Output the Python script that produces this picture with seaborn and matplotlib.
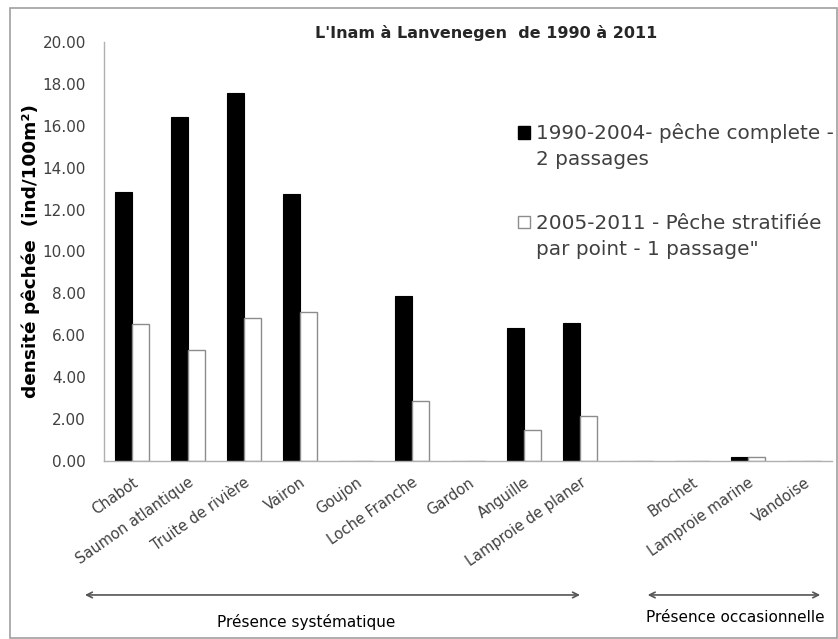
import numpy as np
import pandas as pd
import matplotlib
matplotlib.use("Agg")
import matplotlib.pyplot as plt
from matplotlib.patches import Rectangle, Patch
import matplotlib.transforms as mtransforms
import seaborn as sns

species = ['Chabot', 'Saumon atlantique', 'Truite de rivière', 'Vairon', 'Goujon',
           'Loche Franche', 'Gardon', 'Anguille', 'Lamproie de planer', ' ',
           'Brochet', 'Lamproie marine', 'Vandoise']
dens_1990_2004 = [12.85, 16.42, 17.55, 12.73, 0.0, 7.88, 0.0, 6.35, 6.59, 0.0, 0.0, 0.20, 0.0]
dens_2005_2011 = [6.52, 5.30, 6.81, 7.13, 0.0, 2.86, 0.0, 1.48, 2.15, 0.0, 0.0, 0.18, 0.0]
series = ['1990-2004- pêche complete -\n2 passages',
          '2005-2011 - Pêche stratifiée\npar point - 1 passage"']

df = pd.DataFrame({
    'espece': species * 2,
    'periode': [series[0]] * len(species) + [series[1]] * len(species),
    'densite': dens_1990_2004 + dens_2005_2011,
})

sns.set_style('white')
plt.rcParams['font.family'] = ['DejaVu Sans']
grey = '#404040'
line_grey = '#b0b0b0'

fig = plt.figure(figsize=(8.38, 6.39), dpi=100)
ax = fig.add_axes([0.1241, 0.2786, 0.8687, 0.6557])

sns.barplot(data=df, x='espece', y='densite', hue='periode', order=species,
            hue_order=series, palette=['black', 'white'], width=0.6, gap=0,
            saturation=1, legend=False, ax=ax)
for bar in ax.containers[0]:
    bar.set_edgecolor('black')
    bar.set_linewidth(0.8)
for bar in ax.containers[1]:
    bar.set_edgecolor('#8c8c8c')
    bar.set_linewidth(1.0)

ax.set_xlim(-0.5, len(species) - 0.5)
ax.set_ylim(0, 20)
ax.set_yticks(np.arange(0, 21, 2))
ax.set_yticklabels([f'{v:.2f}' for v in np.arange(0, 21, 2)], fontsize=11, color=grey)
ax.set_xticks(range(len(species)))
ax.set_xticklabels(species, rotation=35, ha='right', rotation_mode='anchor',
                   fontsize=10.5, color=grey)
ax.set_xticks(np.arange(-0.5, len(species), 1), minor=True)
ax.tick_params(axis='x', which='major', length=0, pad=10)
ax.tick_params(axis='x', which='minor', length=5, color=line_grey, direction='out')
ax.tick_params(axis='y', length=6, color=line_grey, direction='out', pad=7)
ax.set_xlabel('')
ax.set_ylabel('densité pêchée  (ind/100m²)', fontsize=13.3, fontweight='bold',
              color='black', labelpad=2)
for side in ['top', 'right']:
    ax.spines[side].set_visible(False)
for side in ['left', 'bottom']:
    ax.spines[side].set_color(line_grey)
    ax.spines[side].set_linewidth(1.0)

fig.text(0.580, 0.948, "L'Inam à Lanvenegen  de 1990 à 2011", ha='center', va='center',
         fontsize=11.5, fontweight='bold')

# Excel-like legend: marker on first line of each two-line entry
blank = Patch(facecolor='none', edgecolor='none')
leg_handles = [Patch(facecolor='black', edgecolor='black'),
               Patch(facecolor='white', edgecolor='#8c8c8c')]
legends = []
for handle, label, ytop in zip(leg_handles, series, [0.806, 0.589]):
    lines = label.split('\n')
    leg = ax.legend([handle, blank], lines, loc='upper left',
                    bbox_to_anchor=(0.5687, ytop), frameon=False, fontsize=14.4,
                    handlelength=0.6, handleheight=0.6, handletextpad=0.3,
                    labelspacing=0.33, borderpad=0, borderaxespad=0)
    for t in leg.get_texts():
        t.set_color(grey)
    legends.append(leg)
ax.add_artist(legends[0])

trans = mtransforms.blended_transform_factory(ax.transData, fig.transFigure)
arrow_props = dict(arrowstyle='<->', color='#555555', lw=1.2)
ax.annotate('', xy=(-0.89, 0.0689), xytext=(8.05, 0.0689), xycoords=trans,
            textcoords=trans, arrowprops=arrow_props, annotation_clip=False)
ax.annotate('', xy=(9.16, 0.0689), xytext=(12.34, 0.0689), xycoords=trans,
            textcoords=trans, arrowprops=arrow_props, annotation_clip=False)
ax.text(3.107, 0.0266, 'Présence systématique', transform=trans, ha='center', va='center',
        fontsize=11, color='black')
ax.text(10.77, 0.0329, 'Présence occasionnelle', transform=trans, ha='center', va='center',
        fontsize=11, color='black')

fig.patches.append(Rectangle((0.012, 0.002), 0.987, 0.985, transform=fig.transFigure,
                             fill=False, edgecolor='#a0a0a0', lw=1.2))

fig.savefig('out.png', dpi=100)
